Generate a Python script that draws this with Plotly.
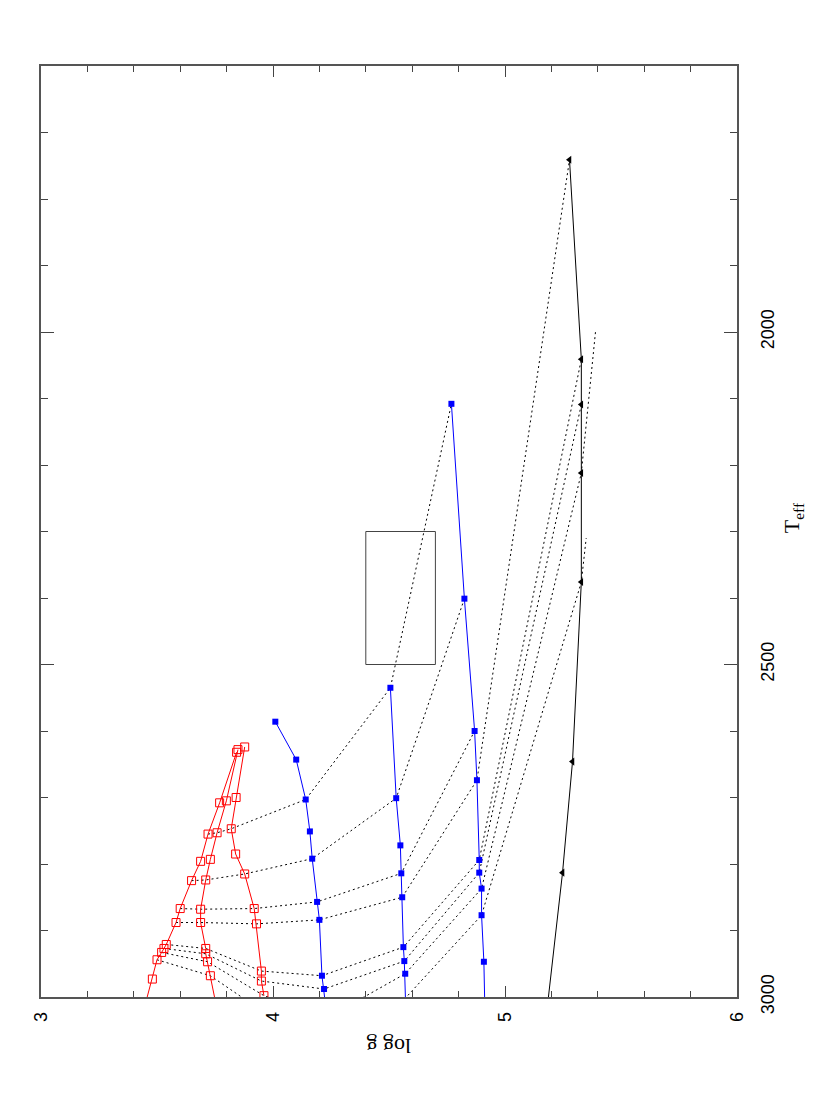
import plotly.graph_objects as go

# isochrones: surface gravity (log g) and effective temperature (K)
red_c_logg = [3.42, 3.480, 3.500, 3.520, 3.530, 3.540, 3.582, 3.600, 3.649, 3.688, 3.720, 3.770, 3.843]
red_c_teff = [3050, 2973, 2944, 2933, 2927, 2921, 2888, 2867, 2825, 2796, 2755, 2708, 2632]
red_b_logg = [3.777, 3.730, 3.718, 3.710, 3.710, 3.688, 3.688, 3.710, 3.730, 3.759, 3.799, 3.849]
red_b_teff = [3050, 2968, 2947, 2935, 2927, 2888, 2868, 2824, 2793, 2753, 2705, 2628]
red_a_logg = [3.961, 3.950, 3.950, 3.929, 3.919, 3.878, 3.839, 3.820, 3.841, 3.878]
red_a_teff = [2998, 2976, 2961, 2890, 2867, 2815, 2785, 2747, 2700, 2624]

blue1_logg = [4.240, 4.220, 4.211, 4.200, 4.190, 4.169, 4.159, 4.141, 4.100, 4.010]
blue1_teff = [3050, 2988, 2968, 2884, 2857, 2792, 2751, 2703, 2643, 2586]
blue2_logg = [4.575, 4.570, 4.566, 4.562, 4.557, 4.553, 4.549, 4.531, 4.506]
blue2_teff = [3050, 2965, 2946, 2925, 2850, 2814, 2772, 2701, 2535]
blue3_logg = [4.915, 4.909, 4.899, 4.899, 4.889, 4.889, 4.879, 4.869, 4.825, 4.769]
blue3_teff = [3050, 2947, 2877, 2837, 2813, 2794, 2674, 2600, 2401, 2108]

black_logg = [5.171, 5.248, 5.291, 5.329, 5.329, 5.329, 5.329, 5.278]
black_teff = [3050, 2813, 2646, 2376, 2212, 2109, 2041, 1741]

# evolutionary tracks of constant mass
track_logg = [
    [3.720, 3.759, 3.820, 4.141, 4.506, 4.769],
    [3.649, 3.710, 3.878, 4.169, 4.531, 4.825],
    [3.600, 3.688, 3.919, 4.190, 4.553, 4.869],
    [3.582, 3.688, 3.929, 4.200, 4.557, 4.879, 5.278],
    [3.540, 3.710, 3.950, 4.211, 4.562, 4.889, 5.329],
    [3.530, 3.710, 3.950, 4.220, 4.566, 4.889, 5.329],
    [3.520, 3.718, 3.961, 4.240, 4.570, 4.899, 5.329, 5.39],
    [3.500, 3.730, 3.990, 4.260, 4.575, 4.899, 5.329, 5.35],
]
track_teff = [
    [2755, 2753, 2747, 2703, 2535, 2108],
    [2825, 2824, 2815, 2792, 2701, 2401],
    [2867, 2868, 2867, 2857, 2814, 2600],
    [2888, 2888, 2890, 2884, 2850, 2674, 1741],
    [2921, 2927, 2961, 2968, 2925, 2794, 2041],
    [2927, 2935, 2976, 2988, 2946, 2813, 2109],
    [2933, 2947, 2998, 3030, 2965, 2837, 2212, 2000],
    [2944, 2968, 3030, 3060, 3000, 2877, 2376, 2310],
]

# observed range (box)
box_logg = [4.4, 4.7]
box_teff = [2300, 2500]

fig = go.Figure()

for lg, te in zip(track_logg, track_teff):
    fig.add_trace(go.Scatter(x=lg, y=te, mode="lines",
                             line=dict(color="black", width=1, dash="2px,3px")))

red_style = dict(mode="lines+markers", line=dict(color="#ff0000", width=1),
                 marker=dict(symbol="square-open", size=8, color="#ff0000", line=dict(width=1)))
for lg, te in [(red_c_logg, red_c_teff), (red_b_logg, red_b_teff), (red_a_logg, red_a_teff)]:
    fig.add_trace(go.Scatter(x=lg, y=te, **red_style))

blue_style = dict(mode="lines+markers", line=dict(color="#0000ff", width=1),
                  marker=dict(symbol="square", size=6, color="#0000ff"))
for lg, te in [(blue1_logg, blue1_teff), (blue2_logg, blue2_teff), (blue3_logg, blue3_teff)]:
    fig.add_trace(go.Scatter(x=lg, y=te, **blue_style))

fig.add_trace(go.Scatter(x=black_logg, y=black_teff, mode="lines+markers",
                         line=dict(color="black", width=1),
                         marker=dict(symbol="triangle-left", size=7, color="black")))

fig.add_shape(type="rect", x0=box_logg[0], x1=box_logg[1], y0=box_teff[0], y1=box_teff[1],
              line=dict(color="#444", width=1))

axis_common = dict(showgrid=False, zeroline=False, showline=True, linecolor="#555", linewidth=1.5,
                   mirror="allticks", ticks="inside", tickcolor="#444", tickangle=-90,
                   tickfont=dict(family="Liberation Sans", size=18, color="black"))

fig.update_xaxes(range=[3, 6], tick0=3, dtick=1, ticklen=11,
                 minor=dict(dtick=0.2, ticklen=6, ticks="inside", tickcolor="#444"),
                 ticklabelstandoff=6, **axis_common)
fig.update_yaxes(range=[3000, 1600], side="right", tick0=0, dtick=500, ticklen=13,
                 minor=dict(dtick=100, ticklen=7, ticks="inside", tickcolor="#444"),
                 ticklabelstandoff=14, **axis_common)

fig.add_annotation(text="log g", xref="paper", yref="paper", x=0.5, y=-0.069,
                   showarrow=False, textangle=180,
                   font=dict(family="Liberation Serif", size=22, color="black"))
fig.add_annotation(text="T<sub>eff</sub>", xref="paper", yref="paper", x=1.103, y=0.515,
                   showarrow=False, textangle=-90,
                   font=dict(family="Liberation Serif", size=22, color="black"))

fig.update_layout(width=830, height=1111, autosize=False, showlegend=False,
                  margin=dict(l=33, r=101, t=58, b=122),
                  plot_bgcolor="white", paper_bgcolor="white")

fig.write_html("out.html")
